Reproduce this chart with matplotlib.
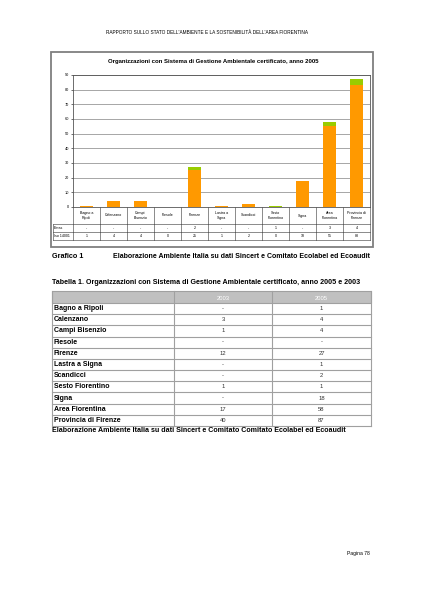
import matplotlib.pyplot as plt
import numpy as np
from matplotlib.patches import Rectangle

plt.rcParams['font.family'] = ['Liberation Sans', 'DejaVu Sans']

# chart data
categories = ['Bagno a\nRipoli', 'Calenzano', 'Campi\nBisenzio', 'Fiesole', 'Firenze',
              'Lastra a\nSigna', 'Scandicci', 'Sesto\nFiorentino', 'Signa',
              'Area\nFiorentina', 'Provincia di\nFirenze']
iso = [1, 4, 4, 0, 25, 1, 2, 0, 18, 55, 83]
emas = [0, 0, 0, 0, 2, 0, 0, 1, 0, 3, 4]
iso_labels = ['1', '4', '4', '0', '25', '1', '2', '0', '18', '55', '83']
emas_labels = ['-', '-', '-', '-', '2', '-', '-', '1', '-', '3', '4']

# table data
rows = ['Bagno a Ripoli', 'Calenzano', 'Campi Bisenzio', 'Fiesole', 'Firenze',
        'Lastra a Signa', 'Scandicci', 'Sesto Fiorentino', 'Signa',
        'Area Fiorentina', 'Provincia di Firenze']
val_2003 = ['-', '3', '1', '-', '12', '-', '-', '1', '-', '17', '40']
val_2005 = ['1', '4', '4', '-', '27', '1', '2', '1', '18', '58', '87']

W, H = 424, 599
fig = plt.figure(figsize=(W / 100, H / 100), dpi=100)
page = fig.add_axes([0, 0, 1, 1])
page.set_xlim(0, W)
page.set_ylim(H, 0)
page.axis('off')

orange = '#FF9900'
green = '#99CC00'
grid_c = '#A6A6A6'
edge_c = '#555555'

# running header
page.text(207, 33, "RAPPORTO SULLO STATO DELL'AMBIENTE E LA SOSTENIBILITÀ DELL'AREA FIORENTINA",
          ha='center', va='center', fontsize=3.4)
page.text(347, 553, 'Pagina 78', ha='left', va='center', fontsize=3.6)

# chart frame
page.add_patch(Rectangle((51, 52), 322, 195, fill=False, ec='#7F7F7F', lw=1.3))
page.text(213, 62, 'Organizzazioni con Sistema di Gestione Ambientale certificato, anno 2005',
          ha='center', va='center', fontsize=4.35, fontweight='bold')

# plot area
px0, px1, py_top, py0 = 73, 370, 75, 207
ax = fig.add_axes([px0 / W, 1 - py0 / H, (px1 - px0) / W, (py0 - py_top) / H])
x = np.arange(len(categories))
ax.bar(x, iso, width=0.45, color=orange, zorder=3)
ax.bar(x, emas, width=0.45, bottom=iso, color=green, zorder=3)
ax.set_xlim(-0.5, len(categories) - 0.5)
ax.set_ylim(0, 90)
ax.set_yticks(range(0, 91, 10))
ax.set_xticks([])
ax.tick_params(axis='y', labelsize=2.8, length=1.5, width=0.4, pad=1.5)
ax.yaxis.grid(True, color=grid_c, lw=0.7, zorder=0)
for s in ax.spines.values():
    s.set_color(edge_c)
    s.set_linewidth(0.6)

# data table below the chart
slot = (px1 - px0) / len(categories)
r0, r1, r2, r3 = 207, 224, 232, 240
tx0 = 53
lc = '#333333'
page.plot([tx0, px1], [r1, r1], color=lc, lw=0.4)
page.plot([tx0, px1], [r2, r2], color=lc, lw=0.4)
page.plot([tx0, px1], [r3, r3], color=lc, lw=0.4)
page.plot([tx0, tx0], [r1, r3], color=lc, lw=0.4)
for i in range(len(categories) + 1):
    xx = px0 + i * slot
    page.plot([xx, xx], [r0, r3], color=lc, lw=0.4)
page.text(tx0 + 1, (r1 + r2) / 2, 'Emas', ha='left', va='center', fontsize=2.6)
page.text(tx0 + 1, (r2 + r3) / 2, 'Iso 14001', ha='left', va='center', fontsize=2.6)
for i, c in enumerate(categories):
    cx = px0 + (i + 0.5) * slot
    page.text(cx, (r0 + r1) / 2, c, ha='center', va='center', fontsize=2.6,
              linespacing=1.1)
    page.text(cx, (r1 + r2) / 2, emas_labels[i], ha='center', va='center', fontsize=2.6)
    page.text(cx, (r2 + r3) / 2, iso_labels[i], ha='center', va='center', fontsize=2.6)

# caption
page.text(52, 256, 'Grafico 1', ha='left', va='center', fontsize=5.2, fontweight='bold')
page.text(113, 256, 'Elaborazione Ambiente Italia su dati Sincert e Comitato Ecolabel ed Ecoaudit',
          ha='left', va='center', fontsize=5.0, fontweight='bold')

# Tabella 1
page.text(52, 283, 'Tabella 1. Organizzazioni con Sistema di Gestione Ambientale certificato, anno 2005 e 2003',
          ha='left', va='center', fontsize=5.1, fontweight='bold')
cols = [52, 174, 272, 371]
hy0, hy1 = 291, 303
rh = (426 - hy1) / len(rows)
bc = '#A0A0A0'
page.add_patch(Rectangle((cols[0], hy0), cols[3] - cols[0], hy1 - hy0, fc='#C0C0C0', ec=bc, lw=0.8))
page.text((cols[1] + cols[2]) / 2, (hy0 + hy1) / 2 + 1, '2003', ha='center', va='center',
          fontsize=4.2, color='white')
page.text((cols[2] + cols[3]) / 2, (hy0 + hy1) / 2 + 1, '2005', ha='center', va='center',
          fontsize=4.2, color='white')
bottom = hy1 + rh * len(rows)
for xx in cols:
    page.plot([xx, xx], [hy0, bottom], color=bc, lw=0.8)
for i, name in enumerate(rows):
    ya = hy1 + i * rh
    page.plot([cols[0], cols[3]], [ya + rh, ya + rh], color=bc, lw=0.8)
    yc = ya + rh / 2
    page.text(cols[0] + 1.5, yc, name, ha='left', va='center', fontsize=5.0, fontweight='bold')
    page.text((cols[1] + cols[2]) / 2, yc, val_2003[i], ha='center', va='center', fontsize=4.2,
              color='#333333')
    page.text((cols[2] + cols[3]) / 2, yc, val_2005[i], ha='center', va='center', fontsize=4.2,
              color='#333333')
page.text(52, 431, 'Elaborazione Ambiente Italia su dati Sincert e Comitato Comitato Ecolabel ed Ecoaudit',
          ha='left', va='center', fontsize=5.1, fontweight='bold')

fig.savefig('out.png', dpi=100, facecolor='white')
